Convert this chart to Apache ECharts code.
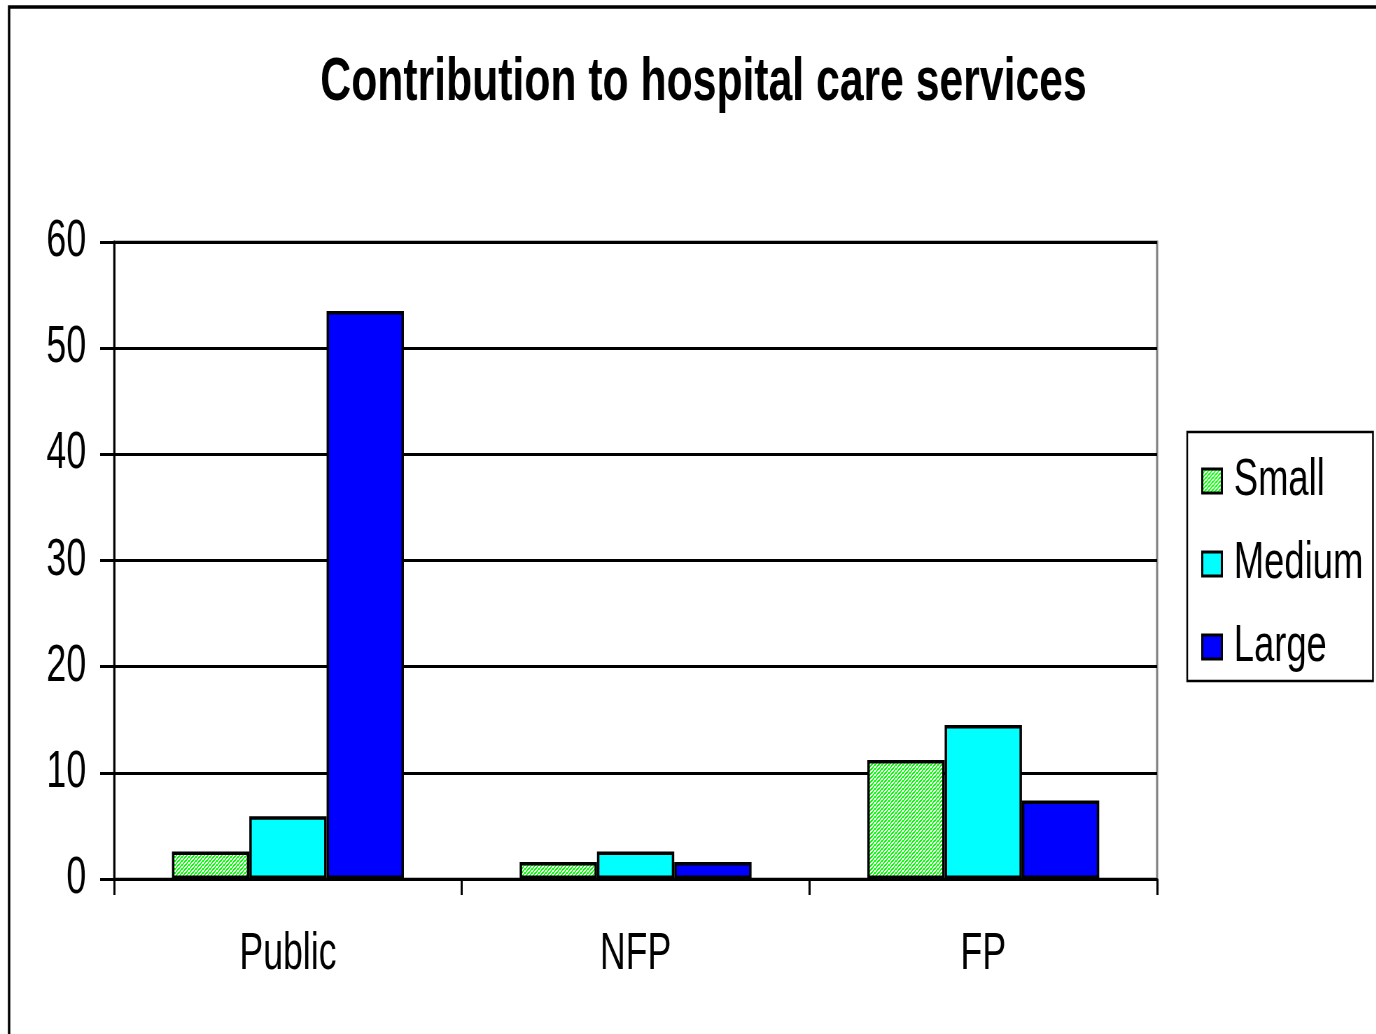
<!DOCTYPE html>
<html>
<head>
<meta charset="utf-8">
<script src="https://cdn.jsdelivr.net/npm/echarts@6/dist/echarts.min.js"></script>
<style>
html, body { margin: 0; padding: 0; background: #fff; overflow: hidden; }
/* the original uses a condensed face; no narrow font is installed, so squeeze the whole chart */
#chart { width: 1966px; height: 1034px; transform: scaleX(0.7); transform-origin: 0 0; }
</style>
</head>
<body>
<div id="chart"></div>
<script>
// data
var categories = ['Public', 'NFP', 'FP'];
var smallValues = [2.6, 1.6, 11.2];
var mediumValues = [5.9, 2.6, 14.5];
var largeValues = [53.5, 1.6, 7.4];
var yTicks = [0, 10, 20, 30, 40, 50, 60];

var FONT = '"Liberation Sans", Arial, sans-serif';

// green hatch like the Excel pattern fill
function hatch() {
	var c = document.createElement('canvas');
	c.width = 5; c.height = 4;
	var ctx = c.getContext('2d');
	ctx.fillStyle = '#ffffff';
	ctx.fillRect(0, 0, 5, 4);
	ctx.fillStyle = '#00ff00';
	for (var x = 0; x < 5; x++) {
		for (var y = 0; y < 4; y++) {
			if ((x + y) % 4 < 2) ctx.fillRect(x, y, 1, 1);
		}
	}
	return { image: c, repeat: 'repeat' };
}

var chart = echarts.init(document.getElementById('chart'));

function bar(name, data, color) {
	return {
		name: name,
		type: 'bar',
		data: data,
		barGap: 0,
		barCategoryGap: '33.3%',
		itemStyle: { color: color, borderColor: '#000', borderWidth: 3.5 },
		emphasis: { disabled: true },
		animation: false
	};
}

var option = {
	backgroundColor: '#fff',
	animation: false,
	title: {
		text: 'Contribution to hospital care services',
		left: 1000, textAlign: 'center',
		top: 48,
		textStyle: { fontFamily: FONT, fontWeight: 'bold', fontSize: 61, color: '#000' }
	},
	graphic: [{
		type: 'rect',
		shape: { x: 13, y: 7, width: 2200, height: 1200 },
		style: { fill: 'none', stroke: '#000', lineWidth: 3.5 },
		silent: true, z: -1
	}],
	legend: {
		orient: 'vertical',
		left: 1696, top: 432,
		padding: [23, 14, 8, 20],
		itemGap: 31,
		itemWidth: 28, itemHeight: 24,
		borderColor: '#000', borderWidth: 2.5,
		icon: 'rect',
		itemStyle: { borderWidth: 3 },
		textStyle: { fontFamily: FONT, fontSize: 52, color: '#000', padding: [0, 0, 0, 12] },
		data: ['Small', 'Medium', 'Large']
	},
	grid: {
		left: 163, right: 313, top: 242, bottom: 155,
		show: true, borderColor: '#808080', borderWidth: 3, backgroundColor: '#fff'
	},
	xAxis: {
		type: 'category',
		data: categories,
		boundaryGap: true,
		axisLine: { lineStyle: { color: '#000', width: 3 } },
		axisTick: { show: true, length: 16, lineStyle: { color: '#000', width: 3 } },
		axisLabel: { fontFamily: FONT, fontSize: 51, color: '#000', margin: 50 }
	},
	yAxis: {
		type: 'value',
		min: yTicks[0], max: yTicks[yTicks.length - 1], interval: 10,
		axisLine: { show: true, lineStyle: { color: '#000', width: 3 } },
		axisTick: { show: true, length: 20, lineStyle: { color: '#000', width: 3 } },
		splitLine: { lineStyle: { color: '#000', width: 3 } },
		axisLabel: { fontFamily: FONT, fontSize: 51, color: '#000', margin: 40 }
	},
	series: [
		bar('Small', smallValues, hatch()),
		bar('Medium', mediumValues, '#00ffff'),
		bar('Large', largeValues, '#0000ff')
	]
};

chart.setOption(option);
</script>
</body>
</html>
